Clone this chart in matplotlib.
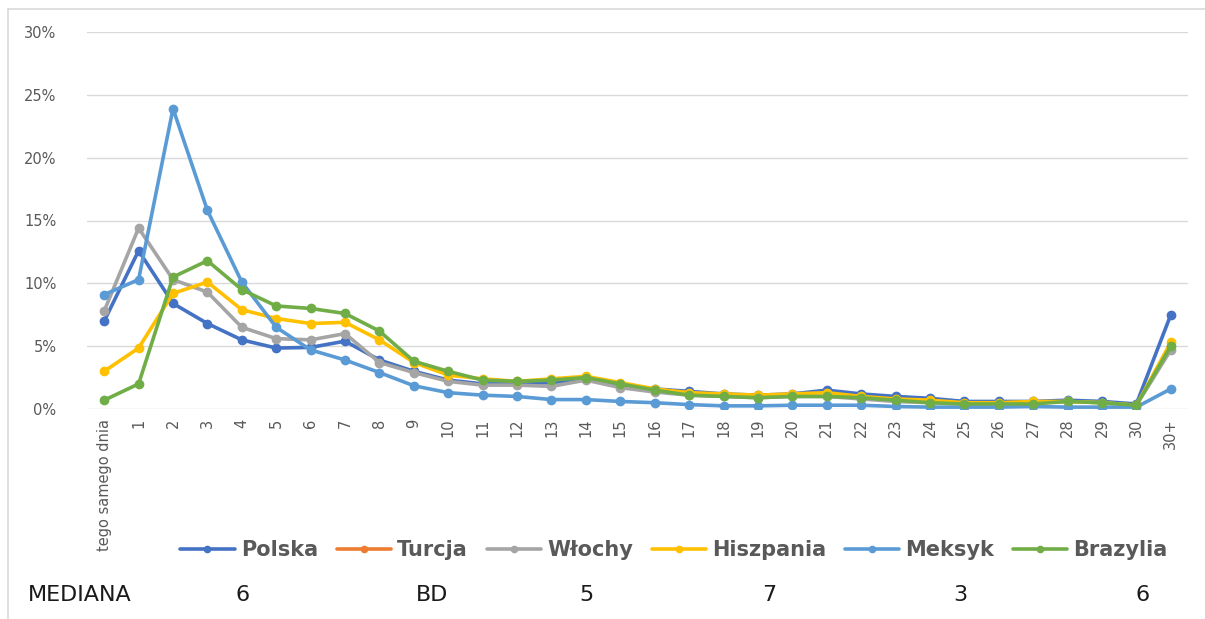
import numpy as np
import matplotlib
matplotlib.use("Agg")
import matplotlib.pyplot as plt
from matplotlib.lines import Line2D

categories = ["tego samego dnia"] + [str(i) for i in range(1, 31)] + ["30+"]

polska = [7.0, 12.6, 8.4, 6.8, 5.5, 4.85, 4.9, 5.4, 3.9, 3.0, 2.3, 2.0, 2.0, 2.1, 2.4, 1.9,
          1.6, 1.4, 1.2, 1.1, 1.2, 1.5, 1.2, 1.0, 0.85, 0.6, 0.6, 0.6, 0.7, 0.6, 0.4, 7.5]
turcja = [np.nan] * 32
wlochy = [7.8, 14.4, 10.3, 9.3, 6.5, 5.6, 5.5, 6.0, 3.7, 2.9, 2.2, 1.9, 1.9, 1.8, 2.3, 1.7,
          1.35, 1.1, 1.0, 0.9, 1.0, 1.0, 0.8, 0.6, 0.5, 0.4, 0.4, 0.5, 0.6, 0.5, 0.3, 4.7]
hiszpania = [3.0, 4.85, 9.2, 10.1, 7.9, 7.2, 6.8, 6.9, 5.5, 3.7, 2.7, 2.4, 2.2, 2.4, 2.6, 2.1,
             1.6, 1.3, 1.2, 1.1, 1.2, 1.3, 1.0, 0.8, 0.7, 0.5, 0.5, 0.6, 0.6, 0.5, 0.3, 5.3]
meksyk = [9.1, 10.3, 23.9, 15.8, 10.1, 6.5, 4.7, 3.9, 2.9, 1.85, 1.3, 1.1, 1.0, 0.75, 0.75, 0.6,
          0.5, 0.35, 0.25, 0.25, 0.3, 0.3, 0.3, 0.2, 0.15, 0.15, 0.15, 0.2, 0.15, 0.15, 0.15, 1.6]
brazylia = [0.7, 2.0, 10.5, 11.8, 9.5, 8.2, 8.0, 7.6, 6.2, 3.8, 3.0, 2.3, 2.2, 2.3, 2.5, 2.0,
            1.5, 1.1, 1.0, 0.9, 1.0, 1.0, 0.9, 0.7, 0.5, 0.4, 0.4, 0.4, 0.6, 0.5, 0.3, 5.0]

series_names = ["Polska", "Turcja", "Włochy", "Hiszpania", "Meksyk", "Brazylia"]
series_values = [polska, turcja, wlochy, hiszpania, meksyk, brazylia]
colors = ["#4472C4", "#ED7D31", "#A5A5A5", "#FFC000", "#5B9BD5", "#70AD47"]

median_label = "MEDIANA"
median_values = ["6", "BD", "5", "7", "3", "6"]

fig = plt.figure(figsize=(12.05, 6.19), dpi=100)
bx, by = 8 / 1205, 1 - 9 / 619
fig.add_artist(Line2D([bx, bx], [0, by], transform=fig.transFigure,
                      color="#D9D9D9", lw=1.2))
fig.add_artist(Line2D([bx, 1], [by, by], transform=fig.transFigure,
                      color="#D9D9D9", lw=1.2))
ax = fig.add_axes([87 / 1205, 1 - 409 / 619, (1188 - 87) / 1205, (409 - 32) / 619])

x = np.arange(len(categories))
for name, vals, c in zip(series_names, series_values, colors):
    ax.plot(x, vals, color=c, lw=2.6, marker="o", markersize=6, label=name,
            solid_capstyle="round")

ax.set_xlim(-0.5, len(categories) - 0.5)
ax.set_ylim(0, 30)
ax.set_yticks(np.arange(0, 31, 5))
ax.set_yticklabels([f"{v}%" for v in range(0, 31, 5)])
ax.set_xticks(x)
ax.set_xticklabels(categories, rotation=90)
ax.tick_params(axis="both", length=0, colors="#595959")
ax.tick_params(axis="y", pad=22, labelsize=10.5)
ax.tick_params(axis="x", pad=7, labelsize=10.5)
ax.grid(axis="y", color="#D9D9D9", lw=1)
ax.set_axisbelow(True)
for s in ax.spines.values():
    s.set_visible(False)

leg = fig.legend(loc="center", bbox_to_anchor=(674 / 1205, 1 - 550 / 619), ncol=6,
                 frameon=False, handlelength=2.6, columnspacing=0.9, handletextpad=0.3,
                 markerscale=0.75, prop={"weight": "bold", "size": 15})
for t in leg.get_texts():
    t.set_color("#595959")

fig.text(28 / 1205, 1 - 595 / 619, median_label, fontsize=16, ha="left", va="center",
         color="#1a1a1a")
for xpos, v in zip([243, 432, 586, 769, 960, 1143], median_values):
    fig.text(xpos / 1205, 1 - 595 / 619, v, fontsize=16, ha="center", va="center",
             color="#1a1a1a")

fig.savefig("out.png", dpi=100)
